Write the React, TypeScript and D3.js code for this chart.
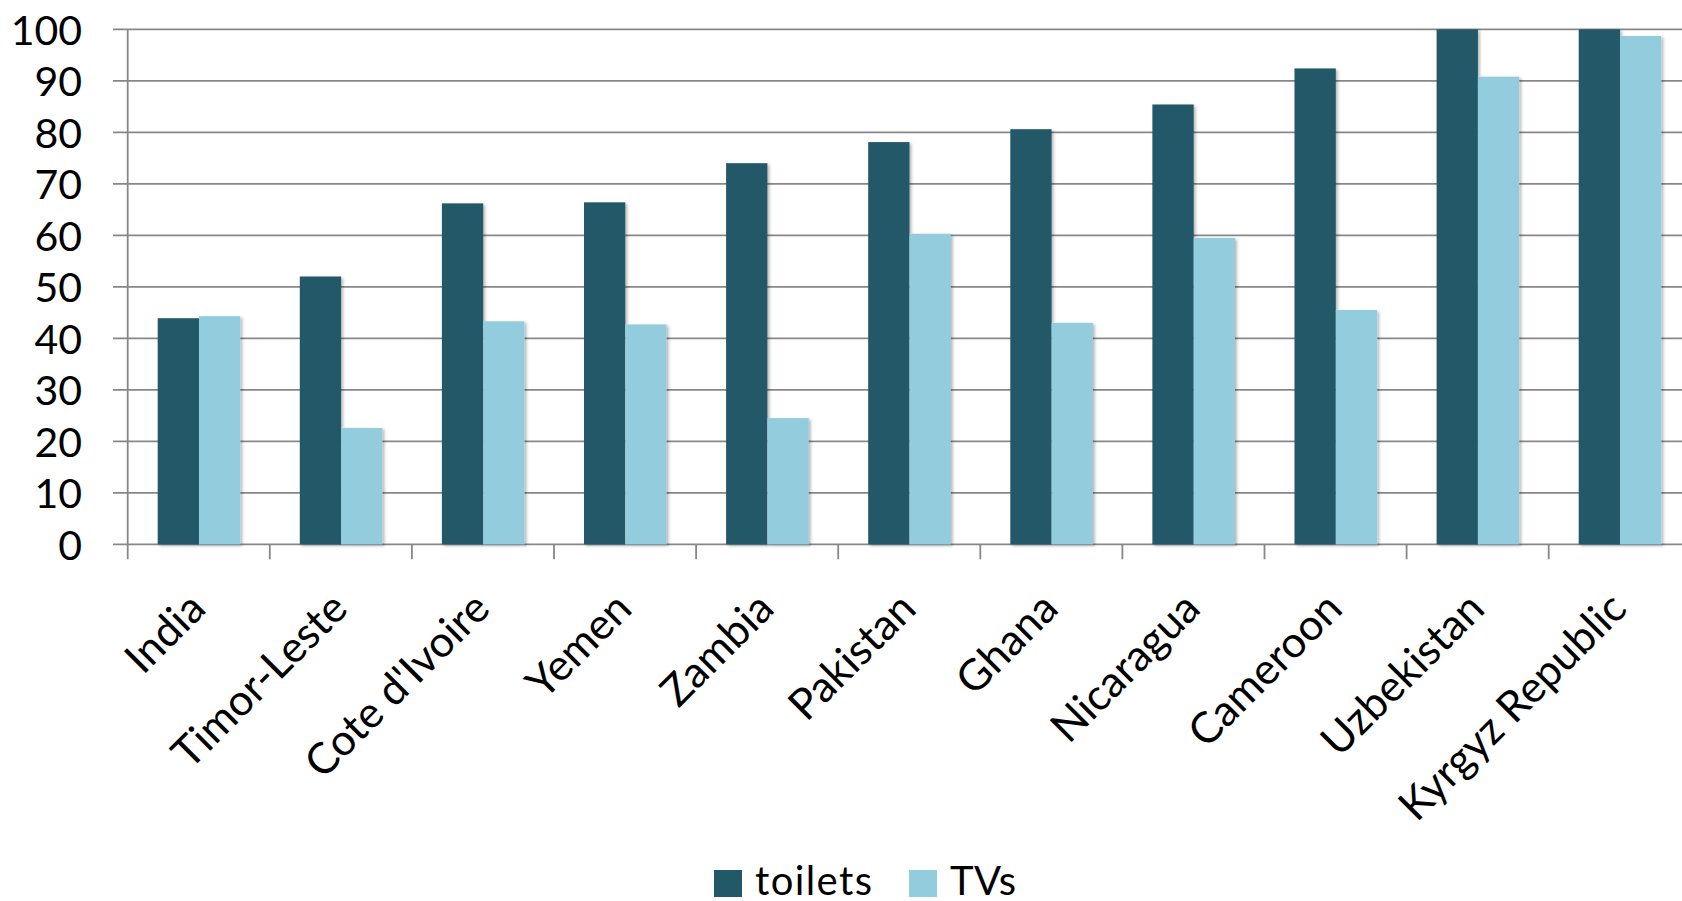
import React from "react";
import * as d3 from "d3";

const categories = [
  "India",
  "Timor-Leste",
  "Cote d'Ivoire",
  "Yemen",
  "Zambia",
  "Pakistan",
  "Ghana",
  "Nicaragua",
  "Cameroon",
  "Uzbekistan",
  "Kyrgyz Republic",
];
const toilets = [43.9, 52.0, 66.2, 66.4, 74.0, 78.1, 80.6, 85.4, 92.4, 100, 100];
const tvs = [44.3, 22.6, 43.3, 42.7, 24.5, 60.3, 43.0, 59.5, 45.5, 90.8, 98.7];
const seriesNames = ["toilets", "TVs"];
const seriesColors = ["#215968", "#93CDDD"];
const yTicks = [0, 10, 20, 30, 40, 50, 60, 70, 80, 90, 100];

const W = 1682;
const H = 901;
const FONT = "Lato, 'Open Sans', sans-serif";

export default function App() {
  const x0 = 127.7;
  const band = 142.1;
  const x = d3
    .scaleBand<string>()
    .domain(categories)
    .range([x0, x0 + band * categories.length])
    .paddingInner(0)
    .paddingOuter(0);
  const inner = d3
    .scaleBand<string>()
    .domain(seriesNames)
    .range([30, x.bandwidth() - 29.5])
    .padding(0);
  const y = d3.scaleLinear().domain([0, 100]).range([544.3, 29.3]);
  const data = [toilets, tvs];

  return (
    <div style={{ position: "absolute", left: 0, top: 0 }}>
      <svg width={W} height={H} style={{ display: "block", background: "#fff" }}>
        <defs>
          <filter id="shadow" x="-20%" y="-5%" width="140%" height="110%">
            <feDropShadow dx="2" dy="1.5" stdDeviation="1.8" floodColor="#000" floodOpacity="0.28" />
          </filter>
        </defs>
        {yTicks.map((t) => (
          <line
            key={"g" + t}
            x1={113}
            x2={W}
            y1={y(t)}
            y2={y(t)}
            stroke="#878787"
            strokeWidth={1.8}
          />
        ))}
        <line x1={x0} x2={x0} y1={y(100)} y2={y(0) + 15} stroke="#878787" strokeWidth={1.8} />
        {categories.map((c, i) =>
          i === 0 ? null : (
            <line
              key={"t" + c}
              x1={x(c)!}
              x2={x(c)!}
              y1={y(0)}
              y2={y(0) + 15}
              stroke="#878787"
              strokeWidth={1.8}
            />
          )
        )}
        {yTicks.map((t) => (
          <text
            key={"l" + t}
            x={82}
            y={y(t)}
            textAnchor="end"
            dominantBaseline="central"
            fontFamily={FONT}
            fontSize={41}
            fill="#000"
          >
            {t}
          </text>
        ))}
        <g filter="url(#shadow)">
          {categories.map((c, i) =>
            seriesNames.map((s, j) => {
              const v = data[j][i];
              return (
                <rect
                  key={c + s}
                  x={x(c)! + inner(s)!}
                  y={y(v)}
                  width={inner.bandwidth()}
                  height={y(0) - y(v)}
                  fill={seriesColors[j]}
                />
              );
            })
          )}
        </g>
        {categories.map((c) => {
          const cx = x(c)! + x.bandwidth() / 2;
          return (
            <text
              key={"c" + c}
              transform={`translate(${cx + 9},${611}) rotate(-45)`}
              textAnchor="end"
              fontFamily={FONT}
              fontSize={43}
              fill="#000"
            >
              {c}
            </text>
          );
        })}
        {seriesNames.map((s, j) => {
          const lx = [714, 909][j];
          return (
            <g key={"lg" + s}>
              <rect x={lx} y={870} width={28} height={27} fill={seriesColors[j]} />
              <text
                x={lx + 41}
                y={895}
                fontFamily={FONT}
                fontSize={40}
                letterSpacing={j === 0 ? 1.4 : 0.4}
                fill="#000"
              >
                {s}
              </text>
            </g>
          );
        })}
      </svg>
    </div>
  );
}
